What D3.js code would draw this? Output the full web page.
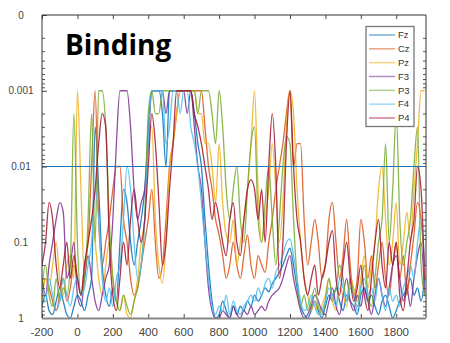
<!DOCTYPE html>
<html>
<head>
<meta charset="utf-8">
<script src="https://cdn.jsdelivr.net/npm/d3@7"></script>
<style>
  body { margin: 0; background: #fff; }
  svg { display: block; }
</style>
</head>
<body>
<svg id="chart"></svg>
<script>
// time axis (ms), one sample per 20 ms
const times = d3.range(-200, 1961, 20);
const xTicks = [-200, 0, 200, 400, 600, 800, 1000, 1200, 1400, 1600, 1800];
const yTicks = [0.0001, 0.001, 0.01, 0.1, 1];
const yTickLabels = ['0', '0.001', '0.01', '0.1', '1'];
const threshold = 0.01;

const seriesNames = ['Fz', 'Cz', 'Pz', 'F3', 'P3', 'F4', 'P4'];
const seriesColors = ['#0072BD', '#D95319', '#EDB120', '#7E2F8E', '#77AC30', '#4DBEEE', '#A2142F'];

// p-values
const Fz = [0.7,0.5,0.8,0.9,0.6,0.4,0.6,0.9,1,0.7,
  0.5,0.6,0.8,0.5,0.3,0.003,0.02,0.2,0.5,0.7,
  0.4,0.6,0.1,0.02,0.03,0.1,0.2,0.1,0.05,0.02,
  0.003,0.001,0.001,0.001,0.002,0.01,0.001,0.001,0.001,0.001,
  0.001,0.001,0.001,0.002,0.005,0.01,0.05,0.2,0.6,1,
  0.9,0.6,0.8,1,0.7,0.9,0.7,0.8,0.6,0.7,
  0.5,0.6,0.5,0.4,0.45,0.35,0.3,0.25,0.2,0.15,
  0.12,0.2,0.4,0.7,0.9,1,0.8,0.6,0.8,1,
  0.7,0.5,0.6,0.4,0.6,0.8,0.5,0.6,0.7,0.9,
  0.5,0.4,0.6,0.5,0.7,0.9,0.6,0.5,0.7,1,
  0.8,0.6,0.5,0.4,0.3,0.5,0.4,0.6,0.3];
const Cz = [0.5,0.3,0.4,0.6,0.8,0.5,0.3,0.6,0.4,0.2,
  0.3,0.5,0.2,0.1,0.01,0.001,0.05,0.2,0.1,0.05,
  0.02,0.01,0.01,0.05,0.1,0.3,0.5,0.4,0.2,0.1,
  0.05,0.02,0.1,0.3,0.2,0.05,0.01,0.005,0.002,0.001,
  0.001,0.001,0.001,0.001,0.001,0.001,0.003,0.01,0.02,0.05,
  0.08,0.15,0.3,0.2,0.1,0.2,0.3,0.15,0.08,0.2,
  0.3,0.15,0.2,0.25,0.1,0.05,0.02,0.01,0.005,0.002,
  0.001,0.01,0.005,0.005,0.05,0.2,0.1,0.05,0.1,0.3,
  0.2,0.05,0.03,0.1,0.3,0.15,0.05,0.2,0.5,0.3,
  0.05,0.1,0.3,0.15,0.4,0.2,0.1,0.3,0.5,0.2,
  0.1,0.3,0.15,0.5,0.2,0.08,0.03,0.05,0.2];
const Pz = [0.6,0.3,0.4,0.2,0.1,0.3,0.5,0.2,0.15,0.3,
  0.001,0.02,0.3,0.1,0.05,0.1,0.3,0.5,0.2,0.1,
  0.3,0.6,0.8,0.5,0.9,1,0.6,0.3,0.1,0.05,
  0.005,0.003,0.05,0.2,0.35,0.1,0.01,0.005,0.002,0.001,
  0.001,0.001,0.001,0.001,0.002,0.002,0.005,0.005,0.01,0.03,
  0.005,0.03,0.08,0.1,0.05,0.2,0.1,0.05,0.02,0.005,
  0.001,0.02,0.1,0.05,0.02,0.005,0.02,0.1,0.03,0.003,
  0.001,0.002,0.02,0.1,0.3,0.5,0.8,0.6,0.9,0.7,
  0.5,0.3,0.6,0.8,0.4,0.5,0.7,0.3,0.4,0.6,
  0.3,0.15,0.4,0.2,0.1,0.02,0.01,0.05,0.2,0.1,
  0.03,0.2,0.1,0.04,0.1,0.02,0.005,0.001,0.001];
const F3 = [0.3,0.5,0.2,0.1,0.05,0.03,0.04,0.3,0.2,0.1,
  0.5,0.7,0.3,0.15,0.3,0.6,0.8,0.5,0.3,0.2,
  0.05,0.005,0.001,0.001,0.001,0.003,0.02,0.05,0.03,0.02,
  0.005,0.001,0.001,0.001,0.001,0.002,0.001,0.001,0.001,0.001,
  0.001,0.002,0.001,0.003,0.01,0.02,0.1,0.4,0.8,1,
  1,0.8,0.9,1,0.7,0.9,1,0.8,0.9,0.7,
  0.9,0.8,0.7,0.8,0.6,0.5,0.45,0.4,0.3,0.2,
  0.15,0.3,0.5,0.8,1,0.9,0.7,0.5,0.6,0.8,
  0.9,0.6,0.4,0.7,0.9,0.5,0.3,0.6,0.8,0.5,
  0.7,0.4,0.6,0.9,0.5,0.3,0.5,0.7,0.4,0.2,
  0.15,0.3,0.6,0.4,0.7,0.3,0.15,0.1,0.5];
const P3 = [0.4,0.2,0.5,0.7,0.3,0.6,0.4,0.5,0.2,0.002,
  0.1,0.5,0.3,0.05,0.002,0.1,0.001,0.001,0.003,0.05,
  0.3,0.6,0.8,0.5,0.7,0.9,0.6,0.4,0.2,0.05,
  0.002,0.001,0.002,0.002,0.001,0.001,0.001,0.001,0.001,0.001,
  0.001,0.001,0.001,0.001,0.002,0.001,0.001,0.001,0.002,0.005,
  0.001,0.003,0.02,0.05,0.02,0.01,0.05,0.1,0.02,0.005,
  0.003,0.05,0.1,0.03,0.01,0.05,0.2,0.05,0.01,0.004,
  0.005,0.05,0.3,0.7,0.5,0.8,0.6,0.4,0.7,0.9,
  0.6,0.3,0.5,0.4,0.2,0.3,0.6,0.3,0.5,0.7,
  0.4,0.2,0.5,0.7,0.3,0.1,0.05,0.005,0.1,0.02,
  0.002,0.05,0.2,0.1,0.05,0.01,0.003,0.2,0.5];
const F4 = [0.4,0.6,0.3,0.5,0.8,0.6,0.3,0.5,0.7,0.4,
  0.3,0.5,0.4,0.2,0.1,0.02,0.05,0.3,0.6,0.4,
  0.7,0.3,0.2,0.05,0.01,0.02,0.1,0.3,0.2,0.05,
  0.005,0.001,0.001,0.001,0.001,0.005,0.003,0.001,0.001,0.002,
  0.001,0.001,0.003,0.005,0.01,0.03,0.1,0.3,0.7,0.9,
  0.7,0.8,0.5,0.9,0.6,0.8,0.9,0.7,0.6,0.5,
  0.6,0.4,0.5,0.35,0.3,0.4,0.25,0.2,0.15,0.1,
  0.09,0.15,0.3,0.6,0.8,0.7,0.5,0.7,0.9,0.8,
  0.6,0.4,0.5,0.7,0.3,0.4,0.6,0.4,0.5,0.8,
  0.4,0.3,0.5,0.4,0.6,0.3,0.5,0.8,0.4,0.6,
  0.5,0.7,0.4,0.3,0.2,0.3,0.1,0.05,0.2];
const P4 = [0.2,0.1,0.03,0.05,0.2,0.4,0.2,0.1,0.3,0.15,
  0.3,0.5,0.2,0.1,0.05,0.02,0.005,0.002,0.003,0.1,
  0.5,0.8,0.3,0.1,0.2,0.05,0.02,0.05,0.1,0.05,
  0.01,0.002,0.005,0.03,0.2,0.1,0.02,0.005,0.001,0.001,
  0.001,0.001,0.001,0.002,0.003,0.005,0.01,0.02,0.05,0.03,
  0.05,0.1,0.15,0.05,0.03,0.1,0.15,0.05,0.02,0.015,
  0.02,0.05,0.02,0.1,0.01,0.002,0.01,0.3,0.1,0.005,
  0.001,0.01,0.05,0.1,0.3,0.5,0.3,0.2,0.5,0.3,
  0.2,0.1,0.07,0.3,0.5,0.2,0.1,0.3,0.6,0.4,
  0.2,0.5,0.8,0.3,0.1,0.05,0.2,0.4,0.1,0.2,
  0.1,0.5,0.8,0.3,0.1,0.05,0.01,0.02,0.3];

const seriesValues = [Fz, Cz, Pz, F3, P3, F4, P4];

const width = 450, height = 343;
const plot = { left: 42, right: 426, top: 15, bottom: 318 };

const svg = d3.select('#chart')
  .attr('width', width)
  .attr('height', height);

const x = d3.scaleLinear()
  .domain([-200, 1968])
  .range([plot.left, plot.right]);

// log scale, most significant at the top
const y = d3.scaleLog()
  .domain([0.0001, 1])
  .range([plot.top, plot.bottom]);

svg.append('defs').append('clipPath')
  .attr('id', 'clip')
  .append('rect')
  .attr('x', plot.left)
  .attr('y', plot.top)
  .attr('width', plot.right - plot.left)
  .attr('height', plot.bottom - plot.top);

const line = d3.line()
  .x(d => x(d[0]))
  .y(d => y(Math.max(0.001, Math.min(1, d[1]))))
  .curve(d3.curveMonotoneX);

const lines = svg.append('g').attr('clip-path', 'url(#clip)');

seriesValues.forEach((vals, k) => {
  lines.append('path')
    .datum(times.map((t, i) => [t, vals[i]]))
    .attr('fill', 'none')
    .attr('stroke', seriesColors[k])
    .attr('stroke-width', 1.3)
    .attr('stroke-opacity', 0.85)
    .attr('stroke-linejoin', 'round')
    .attr('d', line);
});

// threshold line
svg.append('line')
  .attr('x1', plot.left)
  .attr('x2', plot.right)
  .attr('y1', y(threshold))
  .attr('y2', y(threshold))
  .attr('stroke', '#1f74b8')
  .attr('stroke-width', 1.2);

// minor log ticks
const minor = [];
for (let e = -4; e < 0; e++) {
  for (let m = 2; m <= 9; m++) minor.push(m * Math.pow(10, e));
}

const axisLeft = d3.axisRight(y).tickValues(minor).tickSize(3).tickFormat('');
svg.append('g')
  .attr('transform', `translate(${plot.left},0)`)
  .call(axisLeft)
  .call(g => g.select('.domain').remove())
  .call(g => g.selectAll('line').attr('stroke', '#555'));

const axisRightMinor = d3.axisLeft(y).tickValues(minor).tickSize(3).tickFormat('');
svg.append('g')
  .attr('transform', `translate(${plot.right},0)`)
  .call(axisRightMinor)
  .call(g => g.select('.domain').remove())
  .call(g => g.selectAll('line').attr('stroke', '#555'));

const axisLeftMajor = d3.axisRight(y).tickValues(yTicks).tickSize(5).tickFormat('');
svg.append('g')
  .attr('transform', `translate(${plot.left},0)`)
  .call(axisLeftMajor)
  .call(g => g.select('.domain').remove())
  .call(g => g.selectAll('line').attr('stroke', '#444'));

svg.append('g')
  .selectAll('text')
  .data(yTicks)
  .join('text')
  .attr('x', 21)
  .attr('y', d => y(d))
  .attr('dy', '0.35em')
  .attr('text-anchor', 'middle')
  .attr('font-family', 'Liberation Sans, Arial, sans-serif')
  .attr('font-size', 10)
  .attr('fill', '#444')
  .text((d, i) => yTickLabels[i]);

// x axis
const axisBottom = d3.axisTop(x).tickValues(xTicks).tickSize(4).tickFormat('');
svg.append('g')
  .attr('transform', `translate(0,${plot.bottom})`)
  .call(axisBottom)
  .call(g => g.select('.domain').remove())
  .call(g => g.selectAll('line').attr('stroke', '#444'));

const axisTopTicks = d3.axisBottom(x).tickValues(xTicks).tickSize(4).tickFormat('');
svg.append('g')
  .attr('transform', `translate(0,${plot.top})`)
  .call(axisTopTicks)
  .call(g => g.select('.domain').remove())
  .call(g => g.selectAll('line').attr('stroke', '#444'));

svg.append('g')
  .selectAll('text')
  .data(xTicks)
  .join('text')
  .attr('x', d => x(d))
  .attr('y', 332)
  .attr('dy', '0.35em')
  .attr('text-anchor', 'middle')
  .attr('font-family', 'Liberation Sans, Arial, sans-serif')
  .attr('font-size', 11.5)
  .attr('fill', '#444')
  .text(d => d);

// frame
svg.append('path')
  .attr('d', `M${plot.left},${plot.bottom}V${plot.top}H${plot.right}V${plot.bottom}`)
  .attr('fill', 'none')
  .attr('stroke', '#333')
  .attr('stroke-width', 1);
svg.append('line')
  .attr('x1', plot.left).attr('x2', plot.right)
  .attr('y1', plot.bottom + 0.5).attr('y2', plot.bottom + 0.5)
  .attr('stroke', '#888')
  .attr('stroke-width', 2);

// title
svg.append('text')
  .attr('x', 65)
  .attr('y', 55)
  .attr('font-family', 'Open Sans, sans-serif')
  .attr('font-weight', 'bold')
  .attr('font-size', 28)
  .attr('fill', '#000')
  .text('Binding');

// legend
const legend = svg.append('g');
legend.append('rect')
  .attr('x', 366)
  .attr('y', 26.5)
  .attr('width', 48)
  .attr('height', 100)
  .attr('fill', '#fff')
  .attr('stroke', '#777')
  .attr('stroke-width', 1.3);

const legendY = d3.scalePoint()
  .domain(seriesNames)
  .range([35, 118]);

const items = legend.selectAll('g.item')
  .data(seriesNames)
  .join('g')
  .attr('class', 'item')
  .attr('transform', d => `translate(0,${legendY(d)})`);

items.append('line')
  .attr('x1', 369)
  .attr('x2', 395)
  .attr('stroke', (d, i) => seriesColors[i])
  .attr('stroke-opacity', 0.55)
  .attr('stroke-width', 1.5);

items.append('text')
  .attr('x', 398)
  .attr('dy', '0.35em')
  .attr('font-family', 'Liberation Sans, Arial, sans-serif')
  .attr('font-size', 9.5)
  .attr('fill', '#333')
  .text(d => d);
</script>
</body>
</html>
